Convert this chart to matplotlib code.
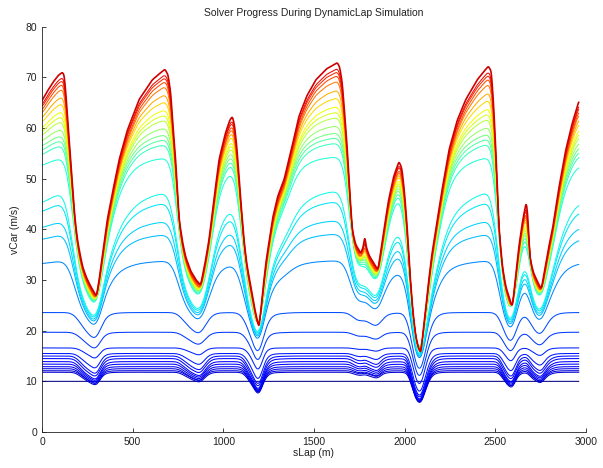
import numpy as np
import matplotlib
matplotlib.use("Agg")
import matplotlib.pyplot as plt

# final (converged) speed profile
s_key = [0, 30, 60, 90, 112, 122, 130, 140, 150, 160, 170, 182, 195, 210, 225, 245, 265, 285, 300,
         315, 330, 345, 360, 390, 425, 470, 535, 608, 650, 678, 695, 710, 723, 737, 756, 775, 792,
         820, 850, 875, 900, 921, 945, 976, 1010, 1035, 1050, 1062, 1075, 1087, 1100, 1115, 1130,
         1150, 1175, 1197, 1215, 1235, 1250, 1270, 1300, 1335, 1380, 1417, 1460, 1510, 1570, 1629,
         1642, 1656, 1670, 1684, 1698, 1711, 1730, 1758, 1772, 1780, 1788, 1805, 1830, 1853, 1870,
         1886, 1910, 1940, 1969, 1985, 2000, 2015, 2030, 2045, 2061, 2075, 2089, 2110, 2130, 2150,
         2172, 2205, 2245, 2290, 2337, 2400, 2440, 2462, 2478, 2490, 2503, 2512, 2521, 2540, 2558,
         2594, 2610, 2630, 2650, 2671, 2680, 2690, 2710, 2735, 2754, 2775, 2795, 2815, 2850, 2889,
         2925, 2960]
v_final = [65.4, 67.3, 69.0, 70.4, 71.0, 70.5, 67.5, 62.5, 57.5, 52.5, 47.5, 42.0, 38.0, 35.0, 32.5,
           30.5, 29.0, 27.7, 26.8, 30.0, 34.0, 38.0, 41.9, 47.5, 53.7, 59.5, 65.6, 69.5, 70.8, 71.6,
           70.5, 66.9, 60.0, 53.7, 42.0, 37.5, 34.6, 31.8, 30.0, 29.0, 33.5, 37.9, 45.0, 53.7, 58.8,
           61.5, 62.3, 60.5, 56.0, 50.0, 44.0, 37.5, 33.0, 29.0, 24.0, 20.5, 27.0, 33.5, 37.0, 41.9,
           46.5, 49.8, 56.5, 62.3, 66.3, 69.5, 71.7, 72.9, 72.0, 68.9, 62.5, 55.7, 47.0, 39.9, 37.0,
           35.3, 36.5, 38.9, 36.5, 34.8, 33.3, 32.0, 36.0, 39.9, 45.5, 50.5, 53.4, 52.0, 47.0, 39.9,
           31.0, 24.0, 19.0, 16.8, 15.5, 22.5, 29.0, 35.0, 39.9, 47.5, 55.7, 61.5, 65.6, 69.5, 71.3,
           72.2, 71.2, 65.0, 55.7, 47.5, 39.9, 32.5, 28.7, 24.6, 30.0, 36.5, 41.5, 45.5, 42.5, 34.6,
           31.5, 29.5, 28.2, 32.5, 36.5, 39.9, 48.0, 55.7, 61.0, 65.2]

# earlier solver iterations: straight-line speed cap, corner scale, cap softness, rounding (m)
cap = [10.0, 11.8, 12.1, 12.5, 12.9, 13.4, 13.9, 14.5, 15.0, 15.5, 16.6, 19.7, 23.6, 35.0, 41.6,
       45.2, 51.0, 54.5, 56.0, 59.6, 60.9, 62.1, 64.2, 67.0, 68.9, 71.0, 74.5, 79.0, 87.6, 97.0,
       98.0, 105.0]
scale = [10.0, 0.34, 0.35, 0.35, 0.36, 0.37, 0.38, 0.40, 0.42, 0.46, 0.54, 0.61, 0.67, 0.77, 0.78,
         0.79, 0.80, 0.81, 0.90, 0.91, 0.92, 0.93, 0.935, 0.94, 0.945, 0.95, 0.96, 0.965, 0.97,
         0.975, 0.985, 0.99]
soft = [10, 10, 10, 10, 10, 10, 10, 10, 10, 10, 10, 8, 8, 4, 4, 4, 4, 4, 8, 8, 8, 8, 8, 8, 8, 8,
        8, 8, 8, 8, 8, 8]
round_m = [1, 12, 12, 12, 12, 12, 12, 13, 13, 14, 15, 18, 20, 22, 22, 22, 22, 22, 20, 18, 17, 16,
           15, 14, 13, 12, 11, 10, 9, 8, 7, 6]
cmap_pos = [0.0, 0.07, 0.08, 0.09, 0.10, 0.11, 0.12, 0.13, 0.14, 0.15, 0.16, 0.18, 0.20, 0.26, 0.31,
            0.33, 0.35, 0.37, 0.39, 0.42, 0.45, 0.49, 0.53, 0.57, 0.61, 0.64, 0.68, 0.73, 0.78, 0.83,
            0.87, 0.90]

s = np.linspace(0, s_key[-1], 1500)
ds = s[1] - s[0]
vf = np.interp(s, s_key, v_final)


def rounded(v, sigma):
    n = int(4 * sigma / ds) + 1
    x = np.arange(-n, n + 1) * ds
    w = np.exp(-0.5 * (x / sigma) ** 2)
    w /= w.sum()
    return np.convolve(np.pad(v, n, mode='edge'), w, mode='valid')


plt.rcParams['font.family'] = ['Liberation Sans', 'DejaVu Sans']
fig = plt.figure(figsize=(6.03, 4.68), dpi=100)
ax = fig.add_axes([0.0697, 0.0769, 0.902, 0.866])

for L, k, p, r, c in zip(cap, scale, soft, round_m, cmap_pos):
    v = ((k * vf) ** -p + L ** -p) ** (-1.0 / p)
    ax.plot(s, rounded(v, r), color=plt.cm.jet(c), lw=0.75)
ax.plot(s, rounded(vf, 3), color=plt.cm.jet(0.93), lw=1.2)

ax.set_xlim(0, 3000)
ax.set_ylim(0, 80)
ax.set_xticks(range(0, 3001, 500))
ax.set_yticks(range(0, 81, 10))
ax.tick_params(direction='in', labelsize=7.5, length=3, width=0.6, colors='#222222')
for side in ['top', 'right']:
    ax.spines[side].set_visible(False)
for side in ['left', 'bottom']:
    ax.spines[side].set_linewidth(0.6)
    ax.spines[side].set_color('#222222')
ax.set_title("Solver Progress During DynamicLap Simulation", fontsize=7.5, color='#222222', pad=8)
ax.set_xlabel("sLap (m)", fontsize=7.5, color='#222222', labelpad=1)
ax.set_ylabel("vCar (m/s)", fontsize=7.5, color='#222222', labelpad=4)

fig.savefig("out.png", dpi=100)
